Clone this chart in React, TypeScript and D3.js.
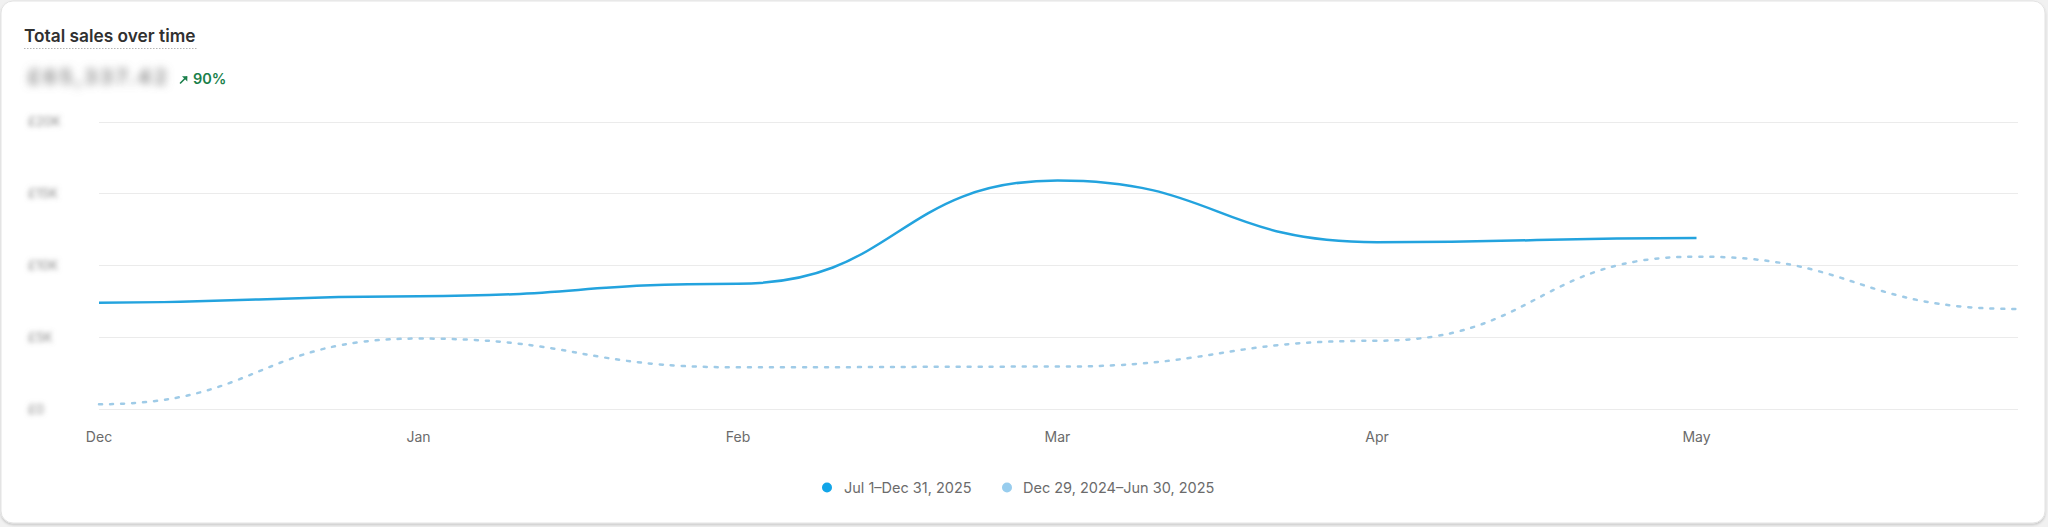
import React from "react";
import * as d3 from "d3";

const months = ["Dec", "Jan", "Feb", "Mar", "Apr", "May", "Jun"];
const tickLabels = ["Dec", "Jan", "Feb", "Mar", "Apr", "May"];
const currentSales = [7400, 7850, 8720, 15900, 11600, 11900];
const previousSales = [330, 4900, 2900, 2950, 4750, 10600, 6960];
const yTicks = [0, 5000, 10000, 15000, 20000];
const yTickLabels = ["£0", "£5K", "£10K", "£15K", "£20K"];
const legendLabels = ["Jul 1–Dec 31, 2025", "Dec 29, 2024–Jun 30, 2025"];
const title = "Total sales over time";
const totalValue = "£65,337.42";
const changeLabel = "90%";

const W = 2048;
const H = 527;
const FONT = "Inter, 'Noto Sans', sans-serif";
const SOLID = "#23a3de";
const LIGHT = "#9fcbe7";

export default function App() {
  const x = d3.scaleLinear().domain([0, months.length - 1]).range([99, 2016]);
  const y = d3.scaleLinear().domain([0, 20000]).range([409, 121.5]);

  const line = d3
    .line<number>()
    .x((_, i) => x(i))
    .y((d) => y(d))
    .curve(d3.curveBumpX);

  return (
    <svg
      width={W}
      height={H}
      style={{ position: "absolute", left: 0, top: 0, display: "block" }}
      fontFamily={FONT}
    >
      <defs>
        <filter id="blurBig" x="-20%" y="-80%" width="140%" height="260%">
          <feGaussianBlur stdDeviation="4.2" />
        </filter>
        <filter id="blurSmall" x="-50%" y="-120%" width="200%" height="340%">
          <feGaussianBlur stdDeviation="2.8" />
        </filter>
        <filter id="shadow" x="-5%" y="-5%" width="110%" height="115%">
          <feDropShadow dx="0" dy="1.5" stdDeviation="1" floodColor="#000" floodOpacity="0.18" />
        </filter>
      </defs>
      <rect x={0} y={0} width={W} height={H} fill="#f1f1f1" />
      <rect
        x={1}
        y={1}
        width={2044}
        height={522}
        rx={12}
        fill="#ffffff"
        stroke="#e3e3e3"
        strokeWidth={1}
        filter="url(#shadow)"
      />

      {/* Title */}
      <text x={24} y={42} fontSize={17.3} fontWeight={600} fill="#303030">
        {title}
      </text>
      <line
        x1={24}
        x2={197}
        y1={48.5}
        y2={48.5}
        stroke="#b5b5b5"
        strokeWidth={1}
        strokeDasharray="1.5 1.5"
      />

      {/* Blurred value */}
      <text
        x={28}
        y={84}
        fontSize={20}
        fontWeight={600}
        letterSpacing={3.2}
        fill="#7a7a7a"
        filter="url(#blurBig)"
      >
        {totalValue}
      </text>
      {/* Arrow up-right */}
      <g stroke="#1a7f4b" strokeWidth={1.6} fill="none" strokeLinecap="round">
        <line x1={180.5} y1={83} x2={186.5} y2={77} />
      </g>
      <path d="M182 76.2 L187.3 76.2 L187.3 81.5 Z" fill="#1a7f4b" />
      <text x={193} y={84} fontSize={14.5} fontWeight={600} fill="#1a7f4b">
        {changeLabel}
      </text>

      {/* Gridlines */}
      {yTicks.map((t) => (
        <line
          key={t}
          x1={99}
          x2={2018}
          y1={Math.round(y(t)) + 0.5}
          y2={Math.round(y(t)) + 0.5}
          stroke="#ebebeb"
          strokeWidth={1}
        />
      ))}

      {/* Y labels (blurred) */}
      {yTicks.map((t, i) => (
        <text
          key={"yl" + t}
          x={28}
          y={y(t)}
          dy="0.35em"
          fontSize={13}
          fill="#8a8a8a"
          filter="url(#blurSmall)"
        >
          {yTickLabels[i]}
        </text>
      ))}

      {/* X labels */}
      {tickLabels.map((m, i) => (
        <text
          key={m}
          x={x(i)}
          y={437}
          dy="0.35em"
          textAnchor="middle"
          fontSize={14}
          fill="#6b6b6b"
        >
          {m}
        </text>
      ))}

      {/* Lines */}
      <path
        d={line(previousSales) || ""}
        fill="none"
        stroke={LIGHT}
        strokeWidth={2.5}
        strokeDasharray="3 8"
        strokeLinecap="round"
      />
      <path
        d={line(currentSales) || ""}
        fill="none"
        stroke={SOLID}
        strokeWidth={2.5}
        strokeLinecap="butt"
      />

      {/* Legend */}
      <circle cx={827} cy={487.5} r={5} fill="#12a5e8" />
      <text x={844} y={487.5} dy="0.35em" fontSize={14.5} fill="#6b6b6b">
        {legendLabels[0]}
      </text>
      <circle cx={1007} cy={487.5} r={5} fill="#98cdee" />
      <text x={1023} y={487.5} dy="0.35em" fontSize={14.5} fill="#6b6b6b">
        {legendLabels[1]}
      </text>
    </svg>
  );
}
